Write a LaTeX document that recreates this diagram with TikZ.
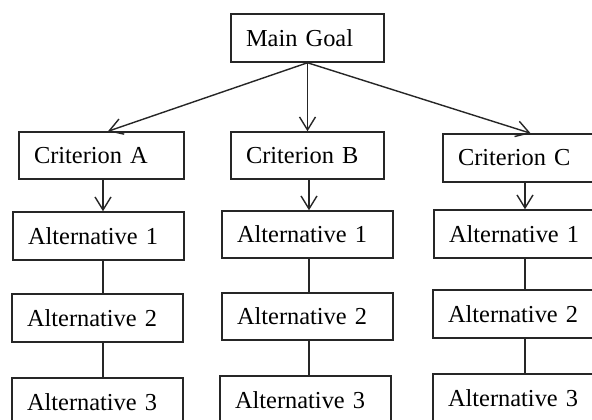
\documentclass[tikz,border=0pt]{standalone}
\usepackage{fontspec}
\setmainfont{Liberation Serif}
\usetikzlibrary{arrows.meta}
\newcommand{\mybox}[6]{%
  \pgfmathsetmacro{\bw}{(#4-#2)*0.5}%
  \pgfmathsetmacro{\bh}{(#5-#3)*0.5}%
  \pgfmathsetmacro{\tw}{(#4-#2)*0.5-15}%
  \node[boxst, minimum width=\bw pt, minimum height=\bh pt, text width=\tw pt] (#1) at ({(#2+#4)/2},{(#3+#5)/2}) {#6};}
\tikzset{
  boxst/.style={draw=black!85, line width=0.75pt, rectangle, inner xsep=7.5pt, inner ysep=0pt, align=left,
    font=\fontsize{12.2}{14}\selectfont},
  arr/.style={draw=black!85, line width=0.7pt, -{Straight Barb[length=6.5pt,width=8pt]}},
  ln/.style={draw=black!85, line width=0.7pt}
}
\begin{document}
\begin{tikzpicture}[x=0.5pt,y=-0.5pt]
\useasboundingbox (0,0) rectangle (592,419);
\clip (0,0) rectangle (592,419);
\fill[white] (0,0) rectangle (592,419);
\mybox{Main}{231}{14}{384}{62}{Main Goal}
\mybox{CA}{19}{132}{184}{179}{Criterion A}
\mybox{CB}{231}{132}{384}{179}{Criterion B}
\mybox{CC}{443}{134}{611}{182}{Criterion C}
\mybox{A1a}{13}{212}{184}{260}{Alternative 1}
\mybox{A2a}{12}{294}{183}{342}{Alternative 2}
\mybox{A3a}{12}{378}{183}{426}{Alternative 3}
\mybox{A1b}{222}{211}{393}{258}{Alternative 1}
\mybox{A2b}{222}{293}{393}{340}{Alternative 2}
\mybox{A3b}{220}{376}{391}{424}{Alternative 3}
\mybox{A1c}{434}{210}{605}{258}{Alternative 1}
\mybox{A2c}{433}{290}{604}{338}{Alternative 2}
\mybox{A3c}{433}{374}{604}{422}{Alternative 3}
\coordinate (colA) at (103,0);
\coordinate (colB) at (309,0);
\coordinate (colC) at (525,0);
\draw[arr] (Main.south) -- ([xshift=3.25pt]CA.north);
\draw[arr] (Main.south) -- (CB.north);
\draw[arr] (Main.south) -- ([xshift=1.8pt]CC.north);
\draw[arr] (colA |- CA.south) -- (colA |- A1a.north);
\draw[arr] (colB |- CB.south) -- (colB |- A1b.north);
\draw[arr] (colC |- CC.south) -- (colC |- A1c.north);
\draw[ln] (colA |- A1a.south) -- (colA |- A2a.north);
\draw[ln] (colA |- A2a.south) -- (colA |- A3a.north);
\draw[ln] (colB |- A1b.south) -- (colB |- A2b.north);
\draw[ln] (colB |- A2b.south) -- (colB |- A3b.north);
\draw[ln] (colC |- A1c.south) -- (colC |- A2c.north);
\draw[ln] (colC |- A2c.south) -- (colC |- A3c.north);
\end{tikzpicture}
\end{document}
